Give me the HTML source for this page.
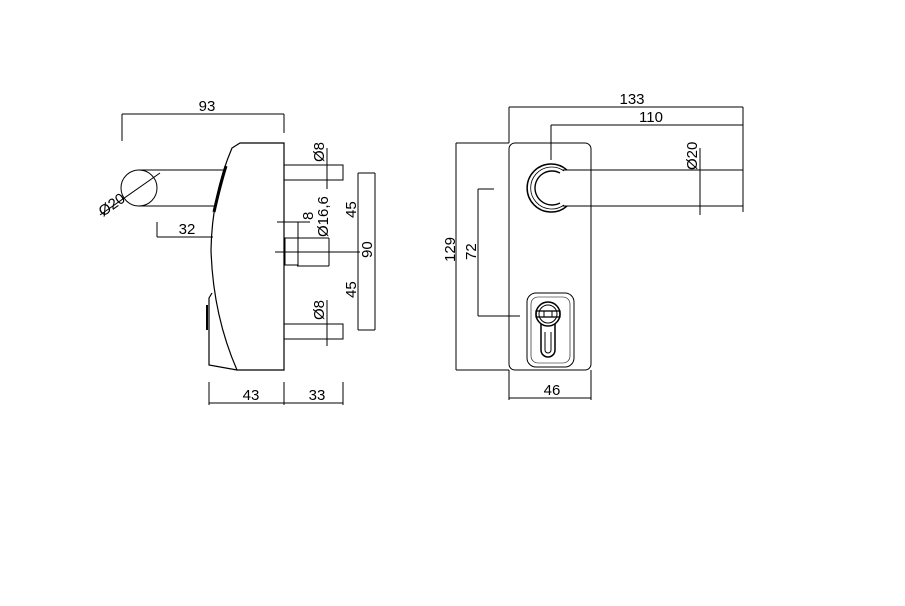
<!DOCTYPE html>
<html><head><meta charset="utf-8"><style>html,body{margin:0;padding:0;background:#fff}svg{display:block}</style></head>
<body>
<svg width="905" height="606" viewBox="0 0 905 606" xmlns="http://www.w3.org/2000/svg" font-family="Liberation Sans, sans-serif" font-size="15" fill="none" stroke="#000" stroke-width="1">
<!-- LEFT VIEW -->
<line x1="122" y1="114" x2="284" y2="114"/>
<line x1="122" y1="114" x2="122" y2="141"/>
<line x1="284" y1="114" x2="284" y2="133"/>
<text x="207" y="111" fill="#000" stroke="none" text-anchor="middle">93</text>
<path d="M240,143 L284,143 L284,370 L237,370 Q213,315 211,250 Q212,195 232,148 Z" stroke-width="1.2"/>
<path d="M212,293 L209,298 L209,365 L237,370" stroke-width="1.2"/>
<line x1="207" y1="305" x2="207" y2="330" stroke-width="2"/>
<path d="M226,166 Q220,185 214,212" stroke-width="3"/>
<circle cx="139" cy="188" r="18"/>
<line x1="139" y1="170" x2="224" y2="170"/>
<line x1="139" y1="206" x2="215" y2="206"/>
<line x1="100" y1="215" x2="160" y2="173"/>
<text fill="#000" stroke="none" transform="translate(103,217) rotate(-35)">Ø20</text>
<line x1="157" y1="222" x2="157" y2="237"/>
<line x1="157" y1="237" x2="213" y2="237"/>
<text x="187" y="234" fill="#000" stroke="none" text-anchor="middle">32</text>
<path d="M284,165 L343,165 L343,180 L284,180"/>
<path d="M284,324 L343,324 L343,339 L284,339"/>
<line x1="327" y1="148" x2="327" y2="189"/>
<line x1="327" y1="300" x2="327" y2="346"/>
<text fill="#000" stroke="none" transform="translate(324,162) rotate(-90)">Ø8</text>
<text fill="#000" stroke="none" transform="translate(324,320) rotate(-90)">Ø8</text>
<line x1="275" y1="252" x2="360" y2="252"/>
<rect x="285" y="238" width="13" height="27"/>
<line x1="277" y1="222" x2="310" y2="222"/>
<line x1="298" y1="222" x2="298" y2="266"/>
<line x1="297" y1="238" x2="329" y2="238"/>
<line x1="297" y1="266" x2="329" y2="266"/>
<line x1="329" y1="238" x2="329" y2="266"/>
<text fill="#000" stroke="none" transform="translate(313,220) rotate(-90)">8</text>
<text fill="#000" stroke="none" transform="translate(328,237) rotate(-90)">Ø16,6</text>
<line x1="358" y1="173" x2="358" y2="330"/>
<line x1="375" y1="173" x2="375" y2="330"/>
<line x1="358" y1="173" x2="375" y2="173"/>
<line x1="358" y1="330" x2="375" y2="330"/>
<text fill="#000" stroke="none" transform="translate(356,218) rotate(-90)">45</text>
<text fill="#000" stroke="none" transform="translate(356,298) rotate(-90)">45</text>
<text fill="#000" stroke="none" transform="translate(372,258) rotate(-90)">90</text>
<line x1="209" y1="403" x2="343" y2="403"/>
<line x1="209" y1="382" x2="209" y2="405"/>
<line x1="284" y1="382" x2="284" y2="405"/>
<line x1="343" y1="382" x2="343" y2="405"/>
<text x="251" y="400" fill="#000" stroke="none" text-anchor="middle">43</text>
<text x="317" y="400" fill="#000" stroke="none" text-anchor="middle">33</text>

<!-- RIGHT VIEW -->
<rect x="509" y="143" width="82" height="227" rx="6"/>
<line x1="509" y1="107" x2="743" y2="107"/>
<line x1="509" y1="107" x2="509" y2="143"/>
<line x1="743" y1="107" x2="743" y2="212"/>
<text x="632" y="104" fill="#000" stroke="none" text-anchor="middle">133</text>
<line x1="551" y1="125" x2="743" y2="125"/>
<line x1="551" y1="125" x2="551" y2="160"/>
<text x="651" y="122" fill="#000" stroke="none" text-anchor="middle">110</text>
<!-- rose + handle -->
<path d="M567,170 A24,24 0 1 0 567,206" stroke-width="1.5"/>
<path d="M564,171 A21,21 0 1 0 564,205" stroke-width="0.8"/>
<path d="M560,173 A17,17 0 1 0 560,203" stroke-width="1.4"/>
<path d="M562,170 L743,170 L743,206 L562,206"/>
<line x1="700" y1="148" x2="700" y2="215"/>
<text fill="#000" stroke="none" transform="translate(697,170) rotate(-90)">Ø20</text>
<line x1="456" y1="143" x2="456" y2="370"/>
<line x1="456" y1="143" x2="509" y2="143"/>
<line x1="456" y1="370" x2="509" y2="370"/>
<text fill="#000" stroke="none" transform="translate(455,262) rotate(-90)">129</text>
<line x1="478" y1="189" x2="478" y2="316"/>
<line x1="478" y1="189" x2="494" y2="189"/>
<line x1="478" y1="316" x2="520" y2="316"/>
<text fill="#000" stroke="none" transform="translate(476,260) rotate(-90)">72</text>
<rect x="527" y="293" width="47" height="74" rx="9"/>
<rect x="531" y="297" width="39" height="66" rx="7" stroke-width="0.6"/>
<path d="M541,322 L541,350 A7,7 0 0 0 555,350 L555,322" stroke-width="1.5"/>
<path d="M545,332 L545,350 A3,3 0 0 0 551,350 L551,332"/>
<circle cx="548" cy="314" r="12" fill="#fff" stroke-width="1.5"/>
<circle cx="548" cy="314" r="9"/>
<rect x="536" y="311" width="24" height="6" stroke-width="1.3"/>
<line x1="544" y1="311" x2="544" y2="317"/>
<line x1="552" y1="311" x2="552" y2="317"/>
<line x1="509" y1="398" x2="591" y2="398"/>
<line x1="509" y1="370" x2="509" y2="400"/>
<line x1="591" y1="370" x2="591" y2="400"/>
<text x="552" y="395" fill="#000" stroke="none" text-anchor="middle">46</text>
</svg>
</body></html>
